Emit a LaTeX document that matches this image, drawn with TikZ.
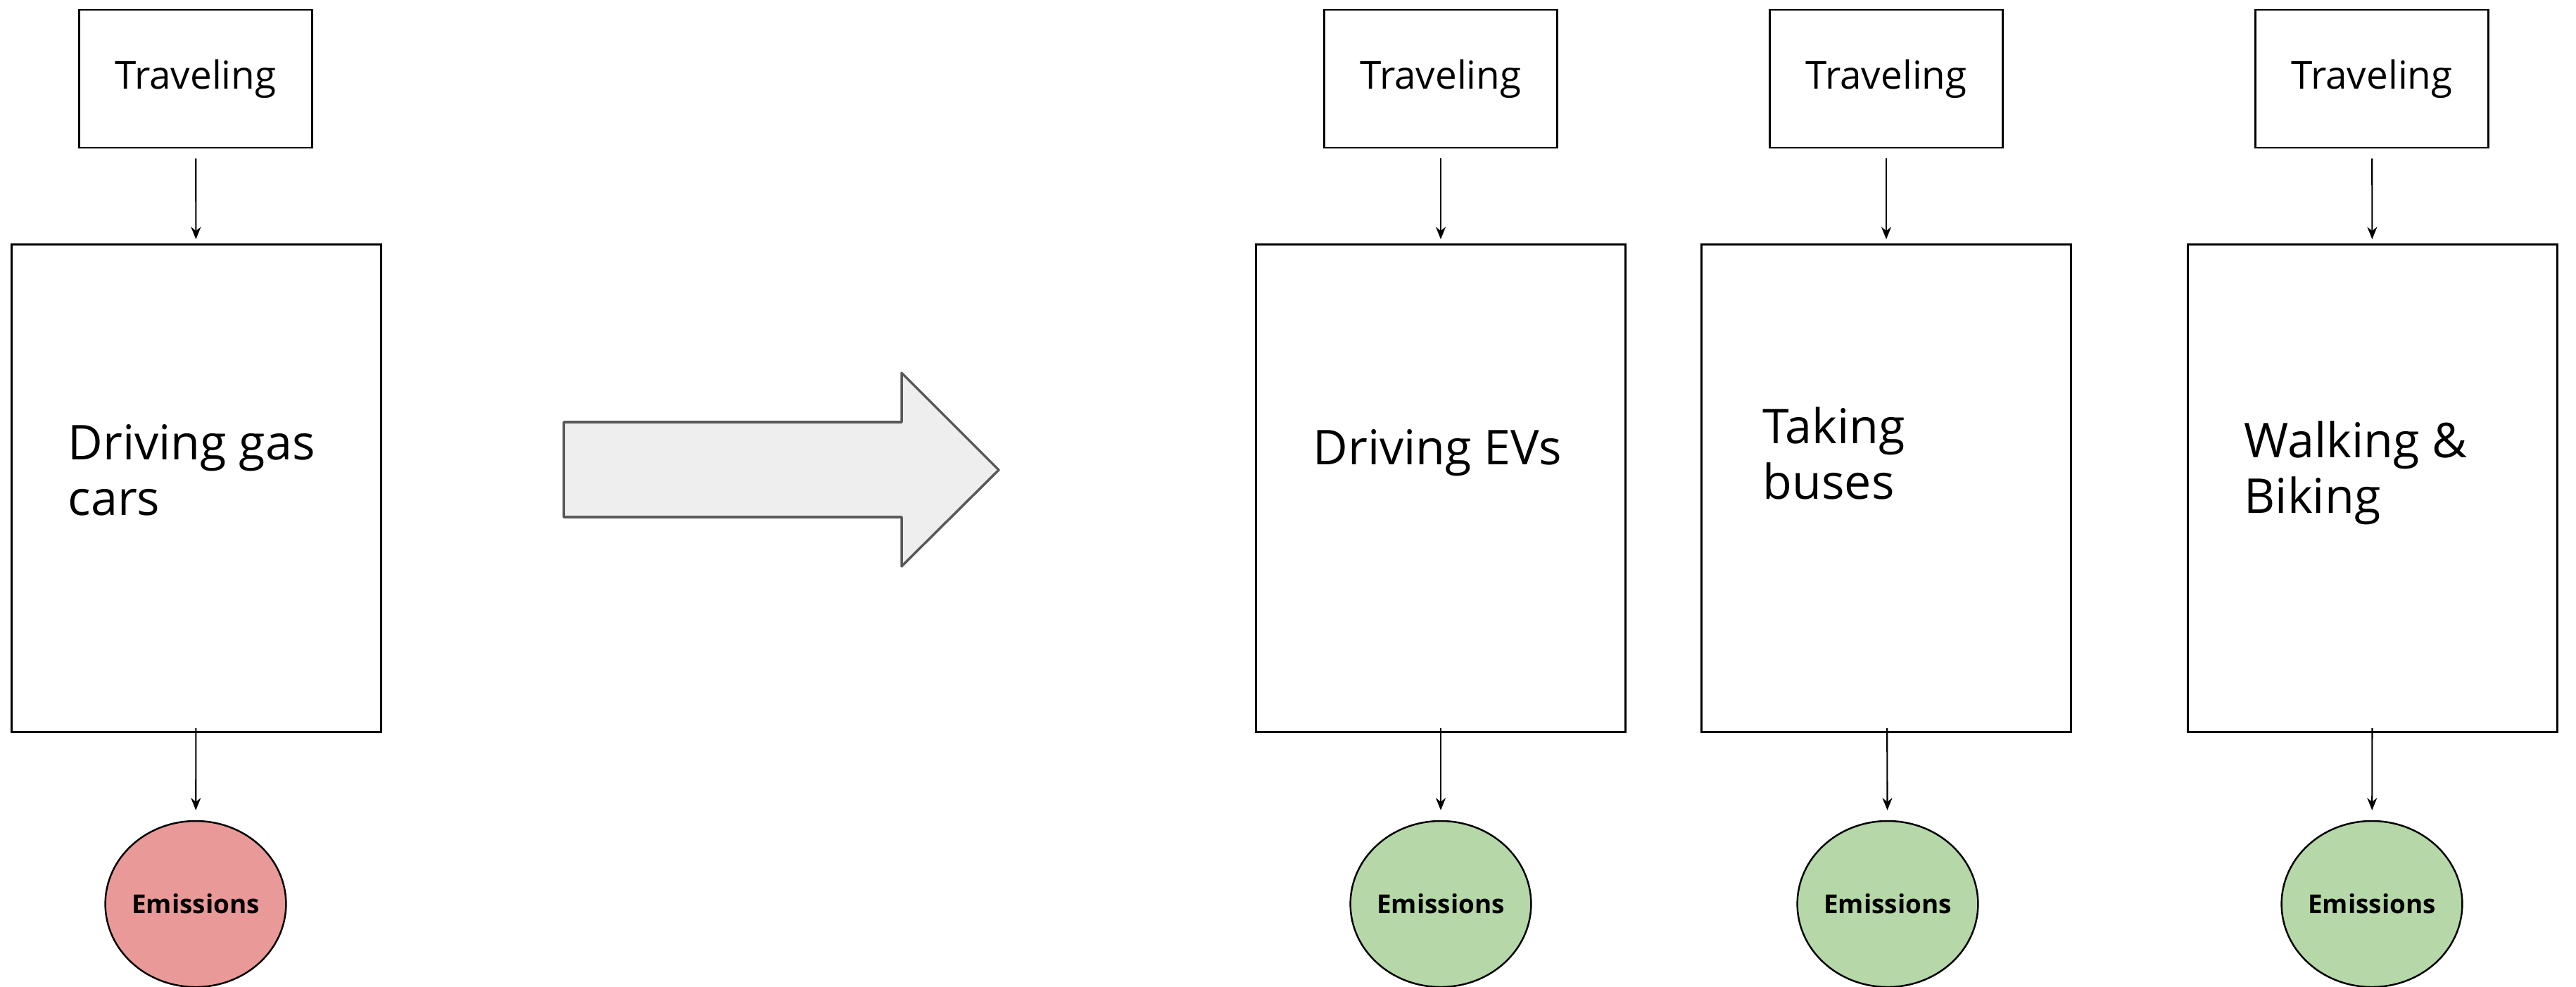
\documentclass[tikz,border=0pt]{standalone}
\usepackage{fontspec}
\setmainfont{Open Sans}
\usetikzlibrary{arrows.meta,shapes.geometric}
\definecolor{gasred}{HTML}{EA9999}
\definecolor{evgreen}{HTML}{B6D7A8}
\definecolor{bigfill}{HTML}{EEEEEE}
\definecolor{bigline}{HTML}{595959}

\begin{document}
\begin{tikzpicture}[
    travbox/.style={draw, line width=0.8pt, minimum width=3.31cm, minimum height=1.96cm, inner sep=0pt, font=\fontsize{15.6}{18}\selectfont},
    modebox/.style={draw, line width=0.8pt, minimum width=5.25cm, minimum height=6.93cm, inner sep=0pt},
    modetext/.style={anchor=west, align=left, inner sep=0pt, font=\fontsize{19.4}{22.5}\selectfont},
    emis/.style={ellipse, draw, line width=0.7pt, minimum width=2.52cm, minimum height=2.36cm, inner sep=0pt, font=\bfseries\fontsize{10.5}{12}\selectfont},
    flow/.style={-{Stealth[length=5pt,width=4pt]}, line width=0.6pt},
    intoBox/.style={flow, shorten <=0.14cm, shorten >=0.06cm},
    intoEmis/.style={flow, shorten <=-0.07cm, shorten >=0.14cm}
]
            \useasboundingbox (0,0) rectangle (36.6,-14.03);

            \node[travbox] (trav1) at (2.78,-1.12) {Traveling};
            \node[travbox] (trav2) at (20.47,-1.12) {Traveling};
            \node[travbox] (trav3) at (26.80,-1.12) {Traveling};
            \node[travbox] (trav4) at (33.70,-1.12) {Traveling};

            \node[modebox] (gas) at (2.79,-6.94) {};
            \node[modebox] (ev) at (20.47,-6.94) {};
            \node[modebox] (bus) at (26.80,-6.94) {};
            \node[modebox] (walk) at (33.71,-6.94) {};

            \node[modetext] (gastext) at (0.96,-6.68) {Driving gas\\cars};
            \node[modetext] (evtext) at (18.65,-6.44) {Driving EVs};
            \node[modetext] (bustext) at (25.04,-6.44) {Taking\\buses};
            \node[modetext] (walktext) at (31.88,-6.72) {Walking \&\\Biking};

            \node[emis, fill=gasred] (emis1) at (2.78,-12.85) {Emissions};
            \node[emis, fill=evgreen] (emis2) at (20.47,-12.85) {Emissions};
            \node[emis, fill=evgreen] (emis3) at (26.82,-12.85) {Emissions};
            \node[emis, fill=evgreen] (emis4) at (33.70,-12.85) {Emissions};

            \draw[intoBox] (trav1) -- (gas);
            \draw[intoBox] (trav2) -- (ev);
            \draw[intoBox] (trav3) -- (bus);
            \draw[intoBox] (trav4) -- (walk);

            \draw[intoEmis] (gas) -- (emis1);
            \draw[intoEmis] (ev) -- (emis2);
            \draw[intoEmis] (bus) -- (emis3);
            \draw[intoEmis] (walk) -- (emis4);

            \draw[draw=bigline, fill=bigfill, line width=1pt, line join=round] (8.01,-6.00) -- (12.81,-6.00) -- (12.81,-5.30) -- (14.19,-6.68) -- (12.81,-8.05) -- (12.81,-7.35) -- (8.01,-7.35) -- cycle;
        \end{tikzpicture}
\end{document}
